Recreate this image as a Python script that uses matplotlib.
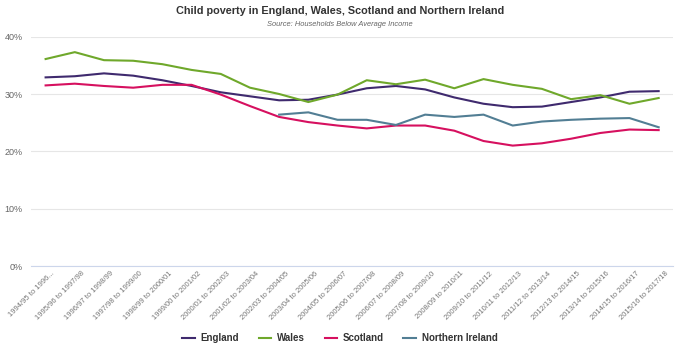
import matplotlib.pyplot as plt
import matplotlib.transforms as mtransforms
import numpy as np

plt.rcParams['font.family'] = ['Liberation Sans', 'DejaVu Sans']

periods = ["1994/95 to 1996...", "1995/96 to 1997/98", "1996/97 to 1998/99",
           "1997/98 to 1999/00", "1998/99 to 2000/01", "1999/00 to 2001/02",
           "2000/01 to 2002/03", "2001/02 to 2003/04", "2002/03 to 2004/05",
           "2003/04 to 2005/06", "2004/05 to 2006/07", "2005/06 to 2007/08",
           "2006/07 to 2008/09", "2007/08 to 2009/10", "2008/09 to 2010/11",
           "2009/10 to 2011/12", "2010/11 to 2012/13", "2011/12 to 2013/14",
           "2012/13 to 2014/15", "2013/14 to 2015/16", "2014/15 to 2016/17",
           "2015/16 to 2017/18"]

england = [32.9, 33.1, 33.6, 33.2, 32.4, 31.4, 30.3, 29.6, 28.9, 29.0, 29.9,
           31.0, 31.4, 30.8, 29.4, 28.3, 27.7, 27.8, 28.6, 29.4, 30.4, 30.5]
wales = [36.1, 37.3, 35.9, 35.8, 35.2, 34.2, 33.5, 31.1, 30.0, 28.6, 29.9,
         32.4, 31.7, 32.5, 31.0, 32.6, 31.6, 30.9, 29.1, 29.8, 28.3, 29.3]
scotland = [31.5, 31.8, 31.4, 31.1, 31.6, 31.6, 29.9, 27.9, 26.0, 25.1, 24.5,
            24.0, 24.5, 24.5, 23.6, 21.8, 21.0, 21.4, 22.2, 23.2, 23.8, 23.7]
n_ireland = [None] * 8 + [26.4, 26.8, 25.5, 25.5, 24.6, 26.4, 26.0, 26.4,
                          24.5, 25.2, 25.5, 25.7, 25.8, 24.2]

series = [("England", england, "#3f2a6e"),
          ("Wales", wales, "#6fa82b"),
          ("Scotland", scotland, "#d6105f"),
          ("Northern Ireland", n_ireland, "#527e94")]

fig = plt.figure(figsize=(6.8, 3.56), dpi=100, facecolor="white")
ax = fig.add_axes([0.0456, 0.2528, 0.9445, 0.6442])

x = np.arange(len(periods))
for name, vals, col in series:
    v = np.array([np.nan if a is None else a for a in vals], dtype=float)
    ax.plot(x, v, color=col, lw=1.5, label=name, solid_joinstyle="round")

ax.set_xlim(-0.5, len(periods) - 0.5)
ax.set_ylim(0, 40)
ax.set_yticks([0, 10, 20, 30, 40])
ax.set_yticklabels(["0%", "10%", "20%", "30%", "40%"], fontsize=6.5, color="#666666")
ax.grid(axis="y", color="#e6e6e6", lw=0.8)
ax.set_axisbelow(True)
for s in ["top", "right", "left"]:
    ax.spines[s].set_visible(False)
ax.spines["bottom"].set_color("#ccd6eb")
ax.spines["bottom"].set_linewidth(0.8)
ax.tick_params(axis="y", length=0, pad=6)
ax.tick_params(axis="x", length=0, pad=3)
ax.set_xticks(x)
ax.set_xticklabels(periods, rotation=45, ha="right", rotation_mode="anchor",
                   fontsize=5.5, color="#777777")
shift = mtransforms.ScaledTranslation(6 / 100, 0, fig.dpi_scale_trans)
for lab in ax.get_xticklabels():
    lab.set_transform(lab.get_transform() + shift)

fig.text(0.5, 1 - 11 / 356, "Child poverty in England, Wales, Scotland and Northern Ireland",
         ha="center", va="center", fontsize=7.8, fontweight="bold", color="#333333")
fig.text(0.5, 1 - 25 / 356, "Source: Households Below Average Income", ha="center",
         va="center", fontsize=5.4, style="italic", color="#666666")

leg = fig.legend(loc="center", bbox_to_anchor=(0.5, 1 - 338 / 356), ncol=4, frameon=False,
                 fontsize=7, handlelength=1.3, columnspacing=2.0, handletextpad=0.6)
for t in leg.get_texts():
    t.set_fontweight("bold")
    t.set_color("#333333")

plt.savefig("out.png", dpi=100)
